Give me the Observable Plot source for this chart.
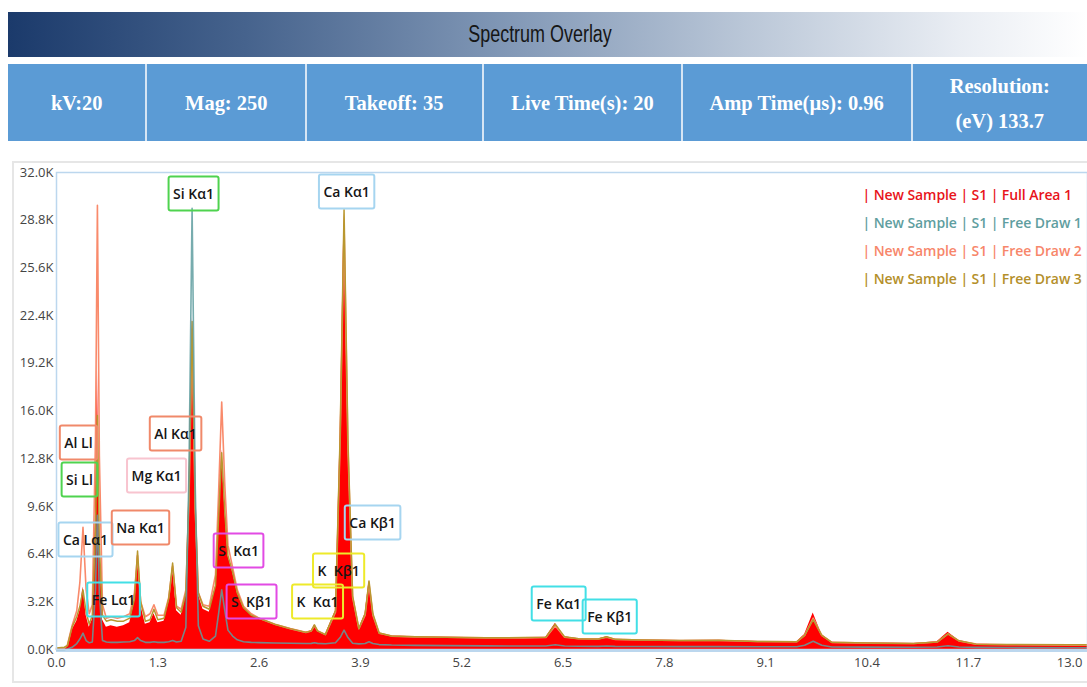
<!DOCTYPE html>
<html><head><meta charset="utf-8">
<script src="https://cdn.jsdelivr.net/npm/d3@7"></script>
<script src="https://cdn.jsdelivr.net/npm/@observablehq/plot@0.6"></script>
<style>
body{margin:0;width:1087px;height:687px;overflow:hidden;background:#fff;position:relative;font-family:"Open Sans",sans-serif}
#title{position:absolute;left:8px;top:12px;width:1079px;height:45px;background:linear-gradient(to right,#1b3a6b 0%,#46638d 22%,#7e95b4 45%,#b9c6d7 68%,#e9edf3 88%,#fff 100%);display:flex;align-items:center;justify-content:center;color:#161616}
#title span{display:inline-block;margin-left:-14px;font-family:"Liberation Sans",Arial,sans-serif;font-size:23px;transform:scaleX(0.78);white-space:nowrap}
#info{position:absolute;left:8px;top:64px;width:1079px;height:77px;background:#5b9bd5;display:flex}
.cell{box-sizing:border-box;height:77px;border-right:2px solid #d6e5f4;display:flex;align-items:center;justify-content:center;text-align:center;color:#fff}
.cell span{display:inline-block;font-family:"Liberation Serif","Times New Roman",serif;font-weight:bold;font-size:22px;line-height:35px;transform:scaleX(0.93);white-space:nowrap}
#frame{position:absolute;left:12px;top:161px;width:1100px;height:522px;border:2px solid #e6e6e6;box-sizing:border-box}
#chart{position:absolute;left:0;top:163px}
</style></head>
<body>
<div id="title"><span>Spectrum Overlay</span></div>
<div id="info"></div>
<div id="frame"></div>
<div id="chart"></div>
<script>
// ---- header info ----
const infoLabels = ["kV:20", "Mag: 250", "Takeoff: 35", "Live Time(s): 20", "Amp Time(µs): 0.96", "Resolution:<br>(eV) 133.7"];
const infoWidths = [139, 160, 177, 199, 230, 174];

// ---- spectrum data (energy in keV, counts) ----
const energy = [0.00,0.10,0.14,0.20,0.26,0.30,0.34,0.38,0.42,0.46,0.50,0.525,0.55,0.59,0.64,0.70,0.78,0.86,0.94,1.00,1.04,1.08,1.14,1.20,1.25,1.30,1.38,1.44,1.49,1.54,1.60,1.66,1.70,1.74,1.78,1.82,1.88,1.96,2.04,2.08,2.12,2.16,2.20,2.26,2.32,2.40,2.50,2.60,2.80,3.00,3.20,3.27,3.31,3.35,3.45,3.58,3.64,3.69,3.74,3.80,3.88,3.96,4.01,4.06,4.14,4.30,4.60,5.00,5.50,6.00,6.28,6.40,6.52,6.70,6.95,7.06,7.17,7.50,8.00,8.50,9.00,9.50,9.60,9.71,9.82,9.95,10.40,11.00,11.30,11.44,11.58,11.80,12.20,13.00,13.30];
const fullArea1 = [0,0,150,1300,1900,2600,4200,2300,1500,2000,9000,19200,8000,2000,1500,1600,1500,1600,1800,3200,6400,3000,1700,1800,2400,1800,1900,3200,5600,2600,2300,3600,10500,22300,9500,3700,2700,2500,4200,8800,13400,9400,6300,5200,3800,2800,2300,2100,1700,1400,1150,1250,1650,1250,1000,2600,14500,29300,14000,3600,1400,2400,4600,2400,1100,900,850,820,780,800,820,1750,850,720,700,850,680,640,600,620,540,520,1000,2450,1000,480,430,400,520,1150,600,360,320,290,280];
const freeDraw1 = [0,0,30,150,400,700,1100,600,450,500,4000,9000,3800,600,500,480,480,500,520,600,800,600,480,480,520,480,480,520,600,500,550,1500,12000,29600,11000,1600,700,550,900,2400,4000,2600,1300,900,650,520,480,460,440,420,400,410,450,410,390,450,800,1300,800,420,380,400,520,400,330,300,280,260,240,230,230,320,230,220,210,230,210,200,190,190,180,180,280,550,280,170,160,150,170,250,170,140,130,120,120];
const freeDraw2 = [60,80,300,1600,2600,4500,8200,4000,2400,3000,14000,29800,13000,3000,2100,2200,2100,2200,2400,3800,6300,3200,2200,2400,3000,2300,2300,3500,5600,2900,2700,4000,10000,21500,9500,3800,3000,2900,5000,10500,16600,11000,7000,5500,4000,2900,2400,2100,1700,1400,1150,1250,1600,1250,1000,2500,14000,28500,13500,3500,1400,2300,4400,2300,1100,900,850,820,780,780,800,1600,820,720,700,820,680,640,600,600,540,520,950,2100,950,480,430,400,500,1050,580,360,320,290,280];
const freeDraw3 = [100,150,250,1500,2200,2900,4000,2500,1700,2300,8000,15700,7000,2300,1900,2000,1900,1900,2100,3400,6600,3200,1900,2000,2700,2000,2100,3400,5800,2800,2500,3800,10500,22000,9500,3800,2900,2700,4300,8800,13200,9200,6300,5200,3800,2800,2300,2100,1700,1400,1150,1250,1650,1250,1000,2600,14500,29500,14000,3600,1400,2400,4600,2400,1100,900,850,820,780,800,820,1700,850,720,700,850,680,640,600,620,540,520,950,2000,950,480,430,400,500,1050,580,360,330,320,320];

const seriesNames = ["| New Sample | S1 | Full Area 1", "| New Sample | S1 | Free Draw 1", "| New Sample | S1 | Free Draw 2", "| New Sample | S1 | Free Draw 3"];

// ---- element peak labels (box centre in keV / counts) ----
const labelNames  = ["Si Kα1","Ca Kα1","Al Ll","Si Ll","Ca Lα1","Fe Lα1","Al Kα1","Mg Kα1","Na Kα1","S  Kα1","S  Kβ1","K  Kα1","K  Kβ1","Ca Kβ1","Fe Kα1","Fe Kβ1"];
const labelEnergy = [1.759,3.723,0.282,0.295,0.372,0.732,1.528,1.284,1.078,2.336,2.503,3.350,3.620,4.056,6.444,7.099];
const labelCounts = [30525,30660,13820,11340,7310,3290,14420,11600,8120,6575,3150,3150,5230,8450,3020,2150];

// ---- axis ticks ----
const xTicks = [0.0,1.3,2.6,3.9,5.2,6.5,7.8,9.1,10.4,11.7,13.0];
const yTicks = [0,3200,6400,9600,12800,16000,19200,22400,25600,28800,32000];

// styles
const seriesColors = ["#ff0000", "#5f9ea0", "#f98a6b", "#b9972f"];
const legendColors = ["#e8141b", "#5f9ea0", "#f7866a", "#b48f2a"];
const elementColor = {Si:"#4fd34f", Ca:"#a6d5f0", Al:"#f0896a", Mg:"#f8c4cf", Na:"#f0896a", S:"#e24be4", K:"#eeea2a", Fe:"#42dfe6"};

const info = document.getElementById("info");
infoLabels.forEach((t,i)=>{const d=document.createElement("div");d.className="cell";d.style.width=infoWidths[i]+"px";if(i===infoLabels.length-1)d.style.borderRight="none";d.innerHTML="<span>"+t+"</span>";info.appendChild(d);});

const series = [fullArea1, freeDraw1, freeDraw2, freeDraw3].map(vals => energy.map((e,i)=>({e, c: vals[i]})));
const labels = labelNames.map((n,i)=>({name:n, e:labelEnergy[i], c:labelCounts[i]}));

const chart = Plot.plot({
  width: 1087, height: 522,
  marginLeft: 56, marginRight: 0, marginTop: 9, marginBottom: 36,
  x: {domain: [0, 13.23], ticks: xTicks, tickFormat: d => d.toFixed(1), tickSize: 3, tickPadding: 5, label: null},
  y: {domain: [0, 32000], ticks: yTicks, tickFormat: d => (d/1000).toFixed(1) + "K", tickSize: 0, tickPadding: 3, label: null},
  style: {fontFamily: "'Open Sans', sans-serif", fontSize: "13px", color: "#444", background: "transparent", overflow: "visible"},
  marks: [
    Plot.ruleY([0], {stroke: "#bcd7ee", strokeWidth: 3, dy: 1}),
    Plot.areaY(series[0], {x: "e", y: "c", fill: seriesColors[0], curve: "linear"}),
    Plot.line(series[2], {x: "e", y: "c", stroke: seriesColors[2], strokeWidth: 1.6}),
    Plot.line(series[3], {x: "e", y: "c", stroke: seriesColors[3], strokeWidth: 1.5}),
    Plot.line(series[1], {x: "e", y: "c", stroke: seriesColors[1], strokeWidth: 1.6, strokeOpacity: 0.85}),
    Plot.text(labels, {x: "e", y: "c", text: "name", fontSize: 14, fontWeight: 600, fill: "#161616"}),
    ...seriesNames.map((s,k) => Plot.text([s], {frameAnchor: "top-left", dx: 806, dy: 18 + 28*k, text: d => d, textAnchor: "start", fill: legendColors[k], fontSize: 14, fontWeight: 600})),
    Plot.frame({stroke: "#bcd7ee", strokeWidth: 1.5})
  ]
});
document.getElementById("chart").appendChild(chart);

// label boxes: white fill under the spectra, coloured border above
const svg = chart.tagName === "svg" ? chart : chart.querySelector("svg");
const textGroups = svg.querySelectorAll('g[aria-label="text"]');
const lblG = textGroups[0];
textGroups.forEach((g, k) => { if (k > 0) g.setAttribute("letter-spacing", "-0.08"); });
const areaG = svg.querySelector('g[aria-label="area"]');
const ns = "http://www.w3.org/2000/svg";
const fillG = document.createElementNS(ns, "g");
const strokeG = document.createElementNS(ns, "g");
[fillG, strokeG].forEach(g => { if (lblG.getAttribute("transform")) g.setAttribute("transform", lblG.getAttribute("transform")); });
lblG.querySelectorAll("text").forEach((t, i) => {
  const b = t.getBBox();
  const col = elementColor[labels[i].name.split(" ")[0]];
  const w = b.width + 9, h = 34;
  const x = b.x - 4.5, y = b.y + b.height/2 - h/2;
  const tr = t.getAttribute("transform");
  const r1 = document.createElementNS(ns, "rect");
  const r2 = document.createElementNS(ns, "rect");
  [r1, r2].forEach(r => { r.setAttribute("x", x); r.setAttribute("y", y); r.setAttribute("width", w); r.setAttribute("height", h); r.setAttribute("rx", 2); if (tr) r.setAttribute("transform", tr); });
  r1.setAttribute("fill", "#fff");
  r2.setAttribute("fill", "none"); r2.setAttribute("stroke", col); r2.setAttribute("stroke-width", 2);
  fillG.appendChild(r1); strokeG.appendChild(r2);
});
areaG.parentNode.insertBefore(fillG, areaG);
lblG.parentNode.insertBefore(strokeG, lblG);
</script>
</body></html>
